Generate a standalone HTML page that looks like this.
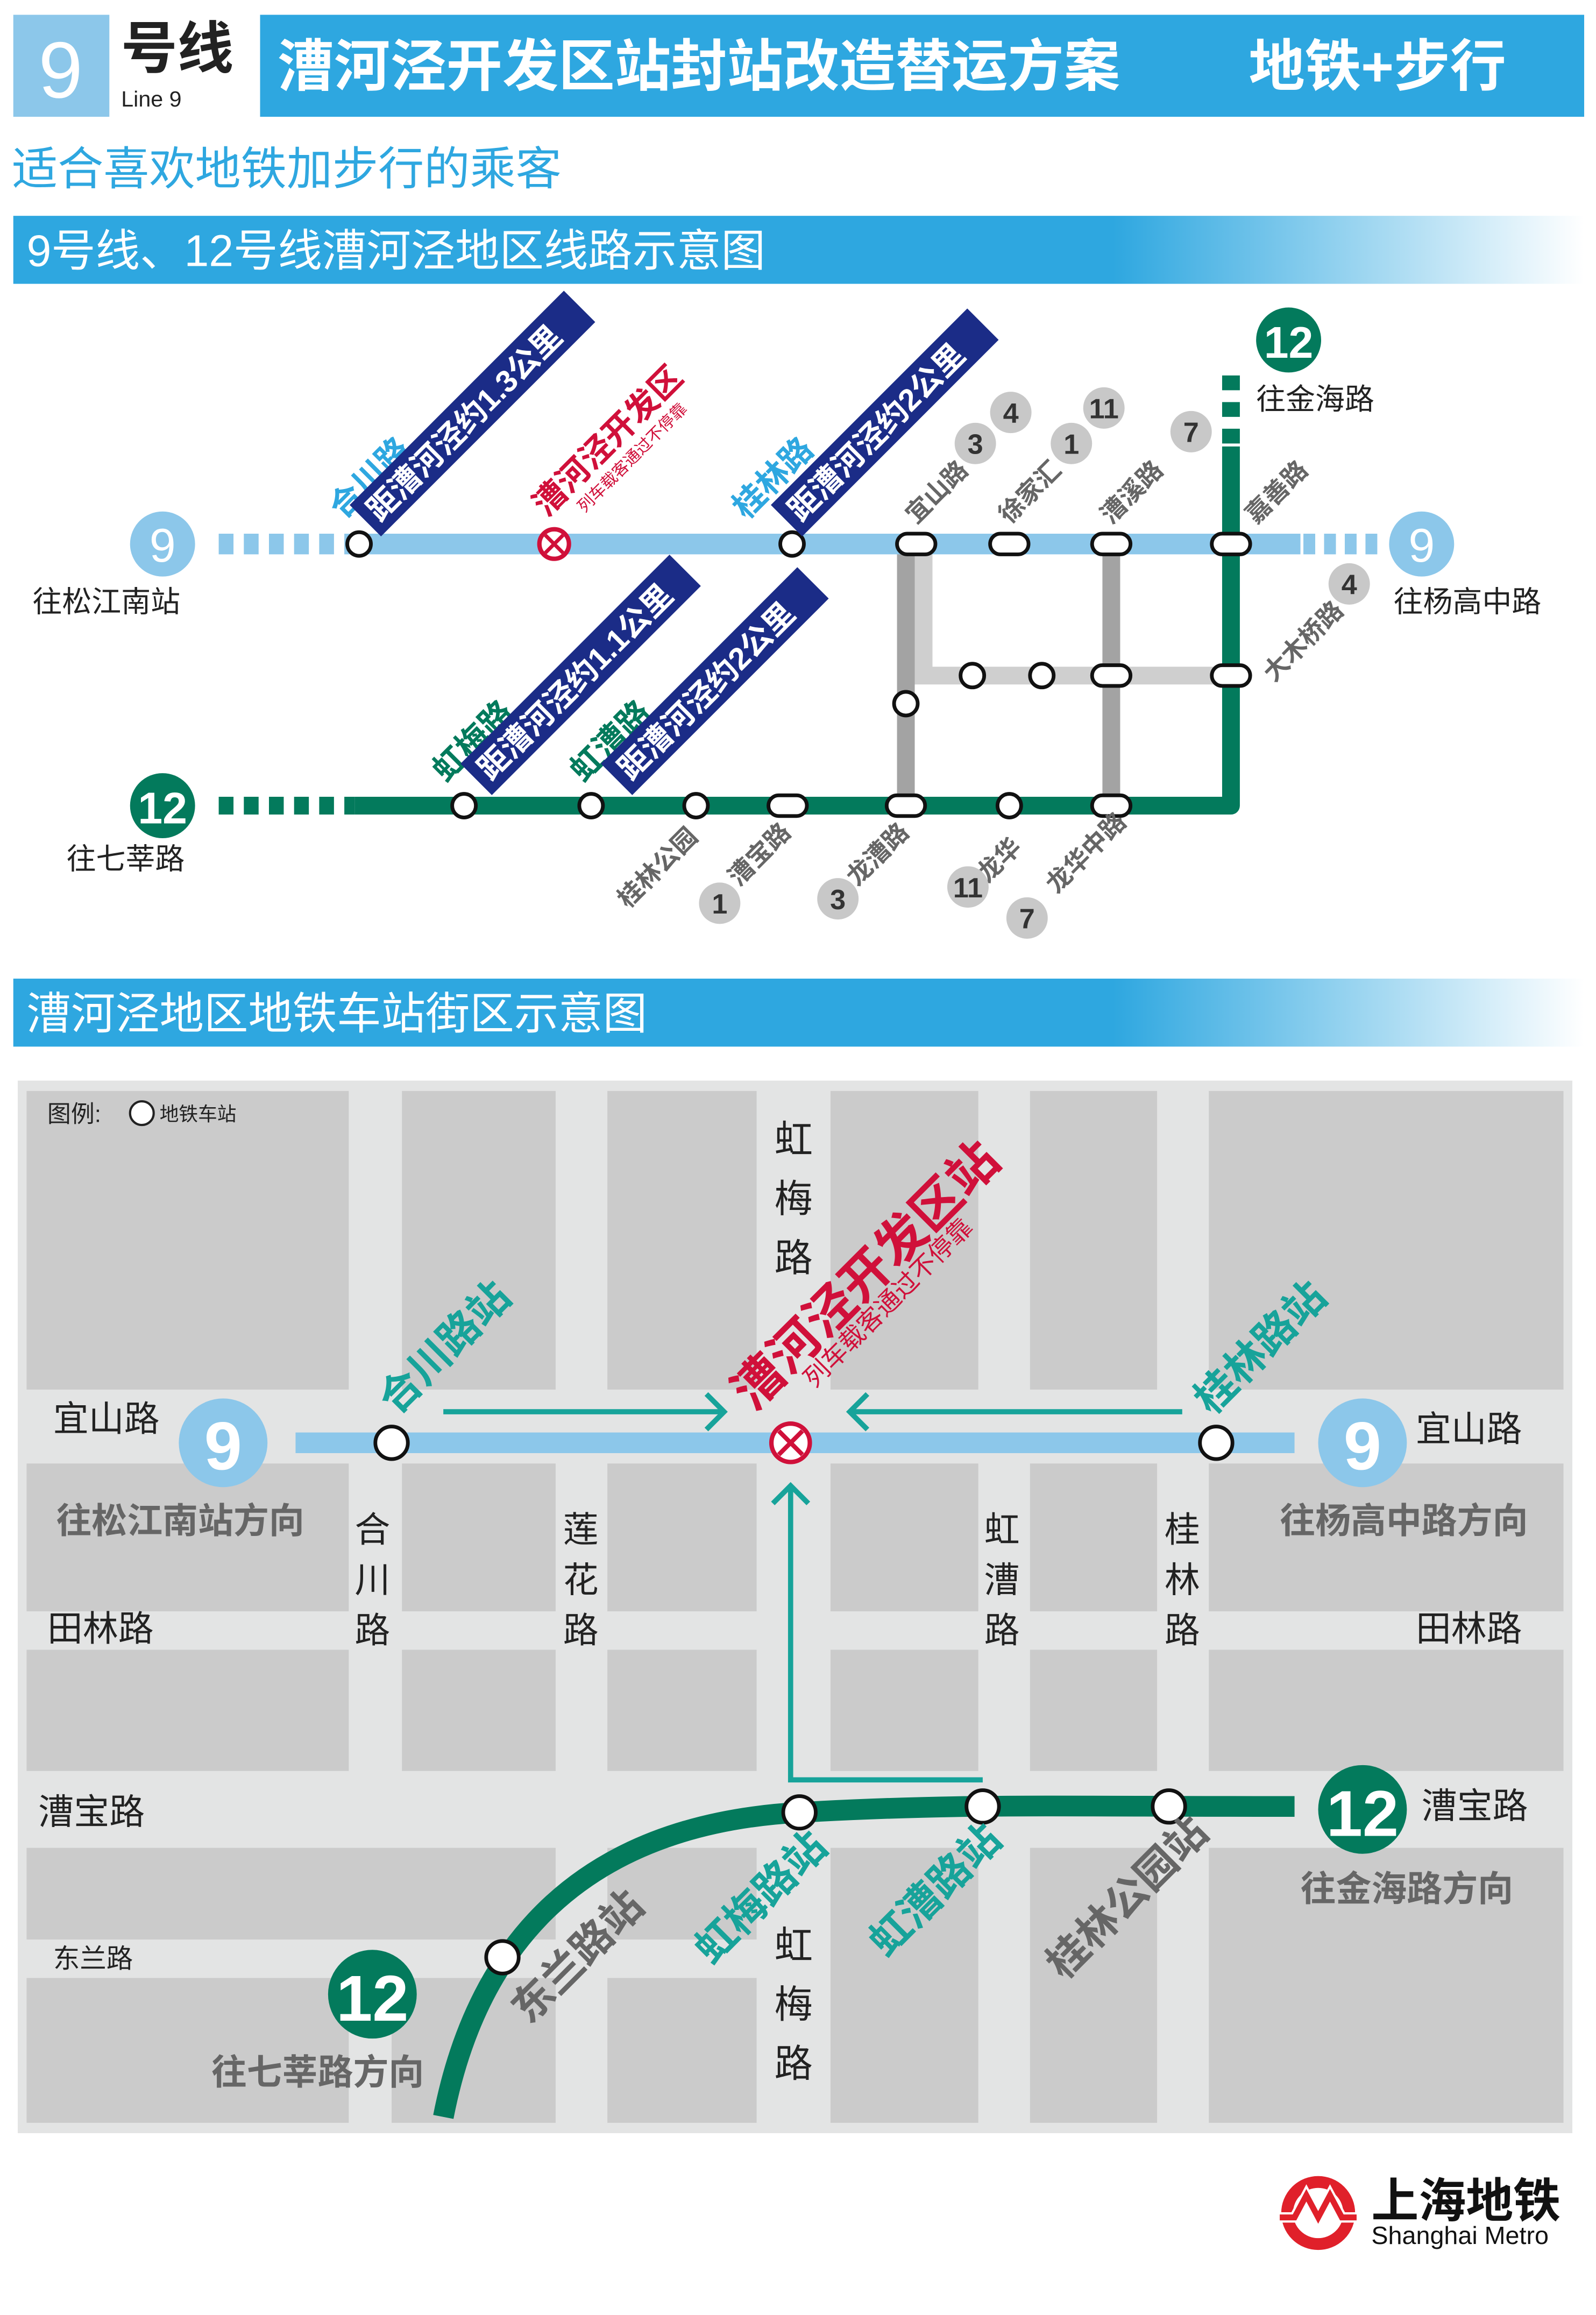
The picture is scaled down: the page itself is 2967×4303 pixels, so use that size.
<!DOCTYPE html>
<html><head><meta charset="utf-8"><style>
html,body{margin:0;padding:0;background:#fff}
svg{display:block}
text{font-family:"Liberation Sans","Noto Sans CJK SC",sans-serif}
</style></head><body>
<svg width="2967" height="4303" viewBox="0 0 1080 1566" preserveAspectRatio="none" xmlns="http://www.w3.org/2000/svg">
<defs>
<linearGradient id="g" x1="0" x2="1"><stop offset="0" stop-color="#2ea7e0"/><stop offset="0.7" stop-color="#2ea7e0"/><stop offset="1" stop-color="#fff"/></linearGradient>
</defs>
<rect width="1080" height="1566" fill="#fff"/>
<!-- header -->
<rect x="9" y="10" width="65" height="69" fill="#8cc7ea"/>
<text x="41" y="66" font-size="54" fill="#fff" text-anchor="middle">9</text>
<text x="82" y="46" font-size="38" fill="#222" font-weight="bold">号线</text>
<text x="82" y="72" font-size="15" fill="#222">Line 9</text>
<rect x="176" y="10" width="896" height="69" fill="#2ea7e0"/>
<text x="188" y="58" font-size="38" fill="#fff" font-weight="bold">漕河泾开发区站封站改造替运方案</text>
<text x="845" y="58" font-size="38" fill="#fff" font-weight="bold">地铁+步行</text>
<text x="8" y="125" font-size="31" fill="#2ea7e0">适合喜欢地铁加步行的乘客</text>
<rect x="9" y="146" width="1063" height="46" fill="url(#g)"/>
<text x="18" y="180" font-size="30" fill="#fff">9号线、12号线漕河泾地区线路示意图</text>

<!-- line diagram -->
<g fill="none">
<path d="M625 375 V457 H833" stroke="#cfcfcf" stroke-width="12"/>
<path d="M613 368 V545 M752 368 V545" stroke="#a3a3a3" stroke-width="12"/>
<path d="M148 368 H230" stroke="#8cc7ea" stroke-width="14" stroke-dasharray="10,7"/>
<path d="M233 368 H880" stroke="#8cc7ea" stroke-width="14"/>
<path d="M882 368 H932" stroke="#8cc7ea" stroke-width="14" stroke-dasharray="8,6"/>
<path d="M148 545 H240" stroke="#037a5c" stroke-width="12" stroke-dasharray="10,7"/>
<path d="M240 545 H833 V302" stroke="#037a5c" stroke-width="12" stroke-linejoin="round"/>
<path d="M833 300 V246" stroke="#037a5c" stroke-width="12" stroke-dasharray="10,8"/>
</g>
<g fill="#fff" stroke="#111" stroke-width="2.5">
<circle cx="243" cy="368" r="8"/><circle cx="536" cy="368" r="8"/>
<rect x="607" y="361" width="26" height="14" rx="7"/><rect x="670" y="361" width="26" height="14" rx="7"/>
<rect x="739" y="361" width="26" height="14" rx="7"/><rect x="820" y="361" width="26" height="14" rx="7"/>
<circle cx="658" cy="457" r="8"/><circle cx="705" cy="457" r="8"/>
<rect x="739" y="450" width="26" height="14" rx="7"/><rect x="820" y="450" width="26" height="14" rx="7"/>
<circle cx="613" cy="476" r="8"/>
<circle cx="314" cy="545" r="8"/><circle cx="400" cy="545" r="8"/><circle cx="471" cy="545" r="8"/>
<rect x="520" y="538" width="26" height="14" rx="7"/><rect x="600" y="538" width="26" height="14" rx="7"/>
<circle cx="683" cy="545" r="8"/><rect x="739" y="538" width="26" height="14" rx="7"/>
</g>
<circle cx="375" cy="368" r="10" fill="#fff" stroke="#d0103a" stroke-width="3"/>
<path d="M369 362 L381 374 M381 362 L369 374" stroke="#d0103a" stroke-width="2.5"/>
<g font-size="32" text-anchor="middle" fill="#fff">
<circle cx="110" cy="368" r="22" fill="#8cc7ea"/><text x="110" y="380">9</text>
<circle cx="962" cy="368" r="22" fill="#8cc7ea"/><text x="962" y="380">9</text>
<circle cx="110" cy="545" r="22" fill="#037a5c"/><text x="110" y="557" font-size="30" font-weight="bold">12</text>
<circle cx="872" cy="230" r="22" fill="#037a5c"/><text x="872" y="242" font-size="30" font-weight="bold">12</text>
</g>
<g font-size="20" fill="#222">
<text x="22" y="414">往松江南站</text><text x="943" y="414">往杨高中路</text>
<text x="45" y="588">往七莘路</text><text x="850" y="277">往金海路</text>
</g>
<!-- rotated labels -->
<g font-size="22" font-weight="bold">
<g transform="translate(232,352) rotate(-45)"><text fill="#2ea7e0">合川路</text></g>
<g transform="translate(255,360) rotate(-45)"><rect x="0" y="-26" width="205" height="30" fill="#1b2c87"/><text x="6" y="-3" fill="#fff" font-size="21">距漕河泾约1.3公里</text></g>
<g transform="translate(370,350) rotate(-45)"><text fill="#d0103a">漕河泾开发区</text><text y="16" x="20" font-size="11" font-weight="normal" fill="#d0103a">列车载客通过不停靠</text></g>
<g transform="translate(505,352) rotate(-45)"><text fill="#2ea7e0">桂林路</text></g>
<g transform="translate(540,360) rotate(-45)"><rect x="0" y="-26" width="188" height="30" fill="#1b2c87"/><text x="6" y="-3" fill="#fff" font-size="21">距漕河泾约2公里</text></g>
<g transform="translate(302,530) rotate(-45)"><text fill="#037a5c">虹梅路</text></g>
<g transform="translate(330,535) rotate(-45)"><rect x="0" y="-26" width="200" height="30" fill="#1b2c87"/><text x="6" y="-3" fill="#fff" font-size="21">距漕河泾约1.1公里</text></g>
<g transform="translate(395,530) rotate(-45)"><text fill="#037a5c">虹漕路</text></g>
<g transform="translate(425,535) rotate(-45)"><rect x="0" y="-26" width="188" height="30" fill="#1b2c87"/><text x="6" y="-3" fill="#fff" font-size="21">距漕河泾约2公里</text></g>
</g>
<g font-size="17" fill="#666" font-weight="bold">
<g transform="translate(620,355) rotate(-45)"><text>宜山路</text></g>
<g transform="translate(683,355) rotate(-45)"><text>徐家汇</text></g>
<g transform="translate(752,355) rotate(-45)"><text>漕溪路</text></g>
<g transform="translate(850,355) rotate(-45)"><text>嘉善路</text></g>
<g transform="translate(862,462) rotate(-45)"><text>大木桥路</text></g>
<g transform="translate(425,615) rotate(-45)"><text>桂林公园</text></g>
<g transform="translate(500,600) rotate(-45)"><text>漕宝路</text></g>
<g transform="translate(580,600) rotate(-45)"><text>龙漕路</text></g>
<g transform="translate(668,598) rotate(-45)"><text>龙华</text></g>
<g transform="translate(715,605) rotate(-45)"><text>龙华中路</text></g>
</g>
<g fill="#c8c8c8"><circle cx="660" cy="300" r="14"/><circle cx="684" cy="279" r="14"/><circle cx="725" cy="300" r="14"/><circle cx="747" cy="276" r="14"/><circle cx="806" cy="292" r="14"/><circle cx="913" cy="395" r="14"/><circle cx="487" cy="611" r="14"/><circle cx="567" cy="608" r="14"/><circle cx="655" cy="600" r="14"/><circle cx="695" cy="621" r="14"/></g>
<g font-size="19" fill="#333" font-weight="bold" text-anchor="middle">
<text x="660" y="307">3</text><text x="684" y="286">4</text><text x="725" y="307">1</text><text x="747" y="283">11</text><text x="806" y="299">7</text><text x="913" y="402">4</text><text x="487" y="618">1</text><text x="567" y="615">3</text><text x="655" y="607">11</text><text x="695" y="628">7</text>
</g>

<!-- section 2 -->
<rect x="9" y="662" width="1063" height="46" fill="url(#g)"/>
<text x="18" y="696" font-size="30" fill="#fff">漕河泾地区地铁车站街区示意图</text>
<rect x="12" y="731" width="1052" height="712" fill="#e3e4e4"/>
<g fill="#cbcbcb">
<rect x="18" y="738" width="218" height="202"/><rect x="272" y="738" width="104" height="202"/><rect x="411" y="738" width="101" height="202"/><rect x="562" y="738" width="100" height="202"/><rect x="697" y="738" width="86" height="202"/><rect x="818" y="738" width="240" height="202"/>
<rect x="18" y="990" width="218" height="100"/><rect x="272" y="990" width="104" height="100"/><rect x="411" y="990" width="101" height="100"/><rect x="562" y="990" width="100" height="100"/><rect x="697" y="990" width="86" height="100"/><rect x="818" y="990" width="240" height="100"/>
<rect x="18" y="1116" width="218" height="82"/><rect x="272" y="1116" width="104" height="82"/><rect x="411" y="1116" width="101" height="82"/><rect x="562" y="1116" width="100" height="82"/><rect x="697" y="1116" width="86" height="82"/><rect x="818" y="1116" width="240" height="82"/>
<rect x="18" y="1250" width="358" height="62"/><rect x="18" y="1338" width="218" height="98"/><rect x="265" y="1338" width="111" height="98"/><rect x="411" y="1250" width="101" height="62"/><rect x="411" y="1338" width="101" height="98"/>
<rect x="562" y="1250" width="100" height="186"/><rect x="697" y="1250" width="86" height="186"/><rect x="818" y="1250" width="240" height="186"/>
</g>
<text x="32" y="759" font-size="16" fill="#222">图例:</text><circle cx="96" cy="753" r="8" fill="#fff" stroke="#222" stroke-width="1.5"/><text x="108" y="758" font-size="13" fill="#222">地铁车站</text>
<path d="M200 976 H876" stroke="#8cc7ea" stroke-width="14"/>
<path d="M300 1432 C320 1330 380 1235 541 1226 C650 1220 700 1222 876 1222" stroke="#037a5c" stroke-width="14" fill="none"/>
<g stroke="#17a39a" stroke-width="3.5" fill="none">
<path d="M300 955 H490 M478 943 L490 955 L478 967"/>
<path d="M800 955 H575 M587 943 L575 955 L587 967"/>
<path d="M665 1204 H535 V1005 M523 1017 L535 1005 L547 1017"/>
</g>
<g fill="#fff" stroke="#111" stroke-width="2.5">
<circle cx="265" cy="976" r="11"/><circle cx="823" cy="976" r="11"/>
<circle cx="541" cy="1226" r="11"/><circle cx="665" cy="1222" r="11"/><circle cx="791" cy="1222" r="11"/><circle cx="340" cy="1324" r="11"/>
</g>
<circle cx="535" cy="976" r="13" fill="#fff" stroke="#d0103a" stroke-width="3"/>
<path d="M527 968 L543 984 M543 968 L527 984" stroke="#d0103a" stroke-width="3"/>
<g text-anchor="middle" fill="#fff" font-weight="bold">
<circle cx="151" cy="976" r="30" fill="#8cc7ea"/><text x="151" y="994" font-size="46">9</text>
<circle cx="922" cy="976" r="30" fill="#8cc7ea"/><text x="922" y="994" font-size="46">9</text>
<circle cx="922" cy="1224" r="30" fill="#037a5c"/><text x="922" y="1242" font-size="44">12</text>
<circle cx="252" cy="1349" r="30" fill="#037a5c"/><text x="252" y="1367" font-size="44">12</text>
</g>
<g font-size="24" fill="#222">
<text x="36" y="968">宜山路</text><text x="958" y="975">宜山路</text>
<text x="32" y="1110">田林路</text><text x="958" y="1110">田林路</text>
<text x="26" y="1234">漕宝路</text><text x="962" y="1230">漕宝路</text>
<text x="36" y="1331" font-size="18">东兰路</text>
</g>
<g font-size="26" fill="#222" text-anchor="middle">
<text x="537" y="780">虹</text><text x="537" y="820">梅</text><text x="537" y="860">路</text>
<text x="537" y="1325">虹</text><text x="537" y="1365">梅</text><text x="537" y="1405">路</text>
<text x="252" y="1043" font-size="24">合</text><text x="252" y="1077" font-size="24">川</text><text x="252" y="1111" font-size="24">路</text>
<text x="393" y="1043" font-size="24">莲</text><text x="393" y="1077" font-size="24">花</text><text x="393" y="1111" font-size="24">路</text>
<text x="678" y="1043" font-size="24">虹</text><text x="678" y="1077" font-size="24">漕</text><text x="678" y="1111" font-size="24">路</text>
<text x="800" y="1043" font-size="24">桂</text><text x="800" y="1077" font-size="24">林</text><text x="800" y="1111" font-size="24">路</text>
</g>
<g font-size="24" fill="#666" font-weight="bold">
<text x="38" y="1037">往松江南站方向</text><text x="866" y="1037">往杨高中路方向</text>
<text x="880" y="1286">往金海路方向</text><text x="143" y="1410">往七莘路方向</text>
</g>
<g font-size="28" font-weight="bold">
<g transform="translate(268,958) rotate(-45)"><text fill="#17a39a">合川路站</text></g>
<g transform="translate(820,958) rotate(-45)"><text fill="#17a39a">桂林路站</text></g>
<g transform="translate(510,955) rotate(-45)"><text fill="#d0103a" font-size="34">漕河泾开发区站</text><text x="40" y="18" fill="#d0103a" font-size="17" font-weight="normal">列车载客通过不停靠</text></g>
<g transform="translate(358,1370) rotate(-45)"><text fill="#666">东兰路站</text></g>
<g transform="translate(482,1330) rotate(-45)"><text fill="#17a39a">虹梅路站</text></g>
<g transform="translate(600,1325) rotate(-45)"><text fill="#17a39a">虹漕路站</text></g>
<g transform="translate(720,1340) rotate(-45)"><text fill="#666">桂林公园站</text></g>
</g>
<!-- logo -->
<circle cx="892" cy="1497" r="21" fill="none" stroke="#e0202a" stroke-width="8"/>
<path d="M866 1500 H876 L884 1485 L892 1500 L900 1485 L908 1500 H918" stroke="#fff" stroke-width="7" fill="none"/>
<path d="M866 1500 H876 L884 1485 L892 1500 L900 1485 L908 1500 H918" stroke="#e0202a" stroke-width="4" fill="none"/>
<text x="928" y="1500" font-size="32" font-weight="bold" fill="#111">上海地铁</text>
<text x="928" y="1518" font-size="17" fill="#111">Shanghai Metro</text>
</svg>
</body></html>
